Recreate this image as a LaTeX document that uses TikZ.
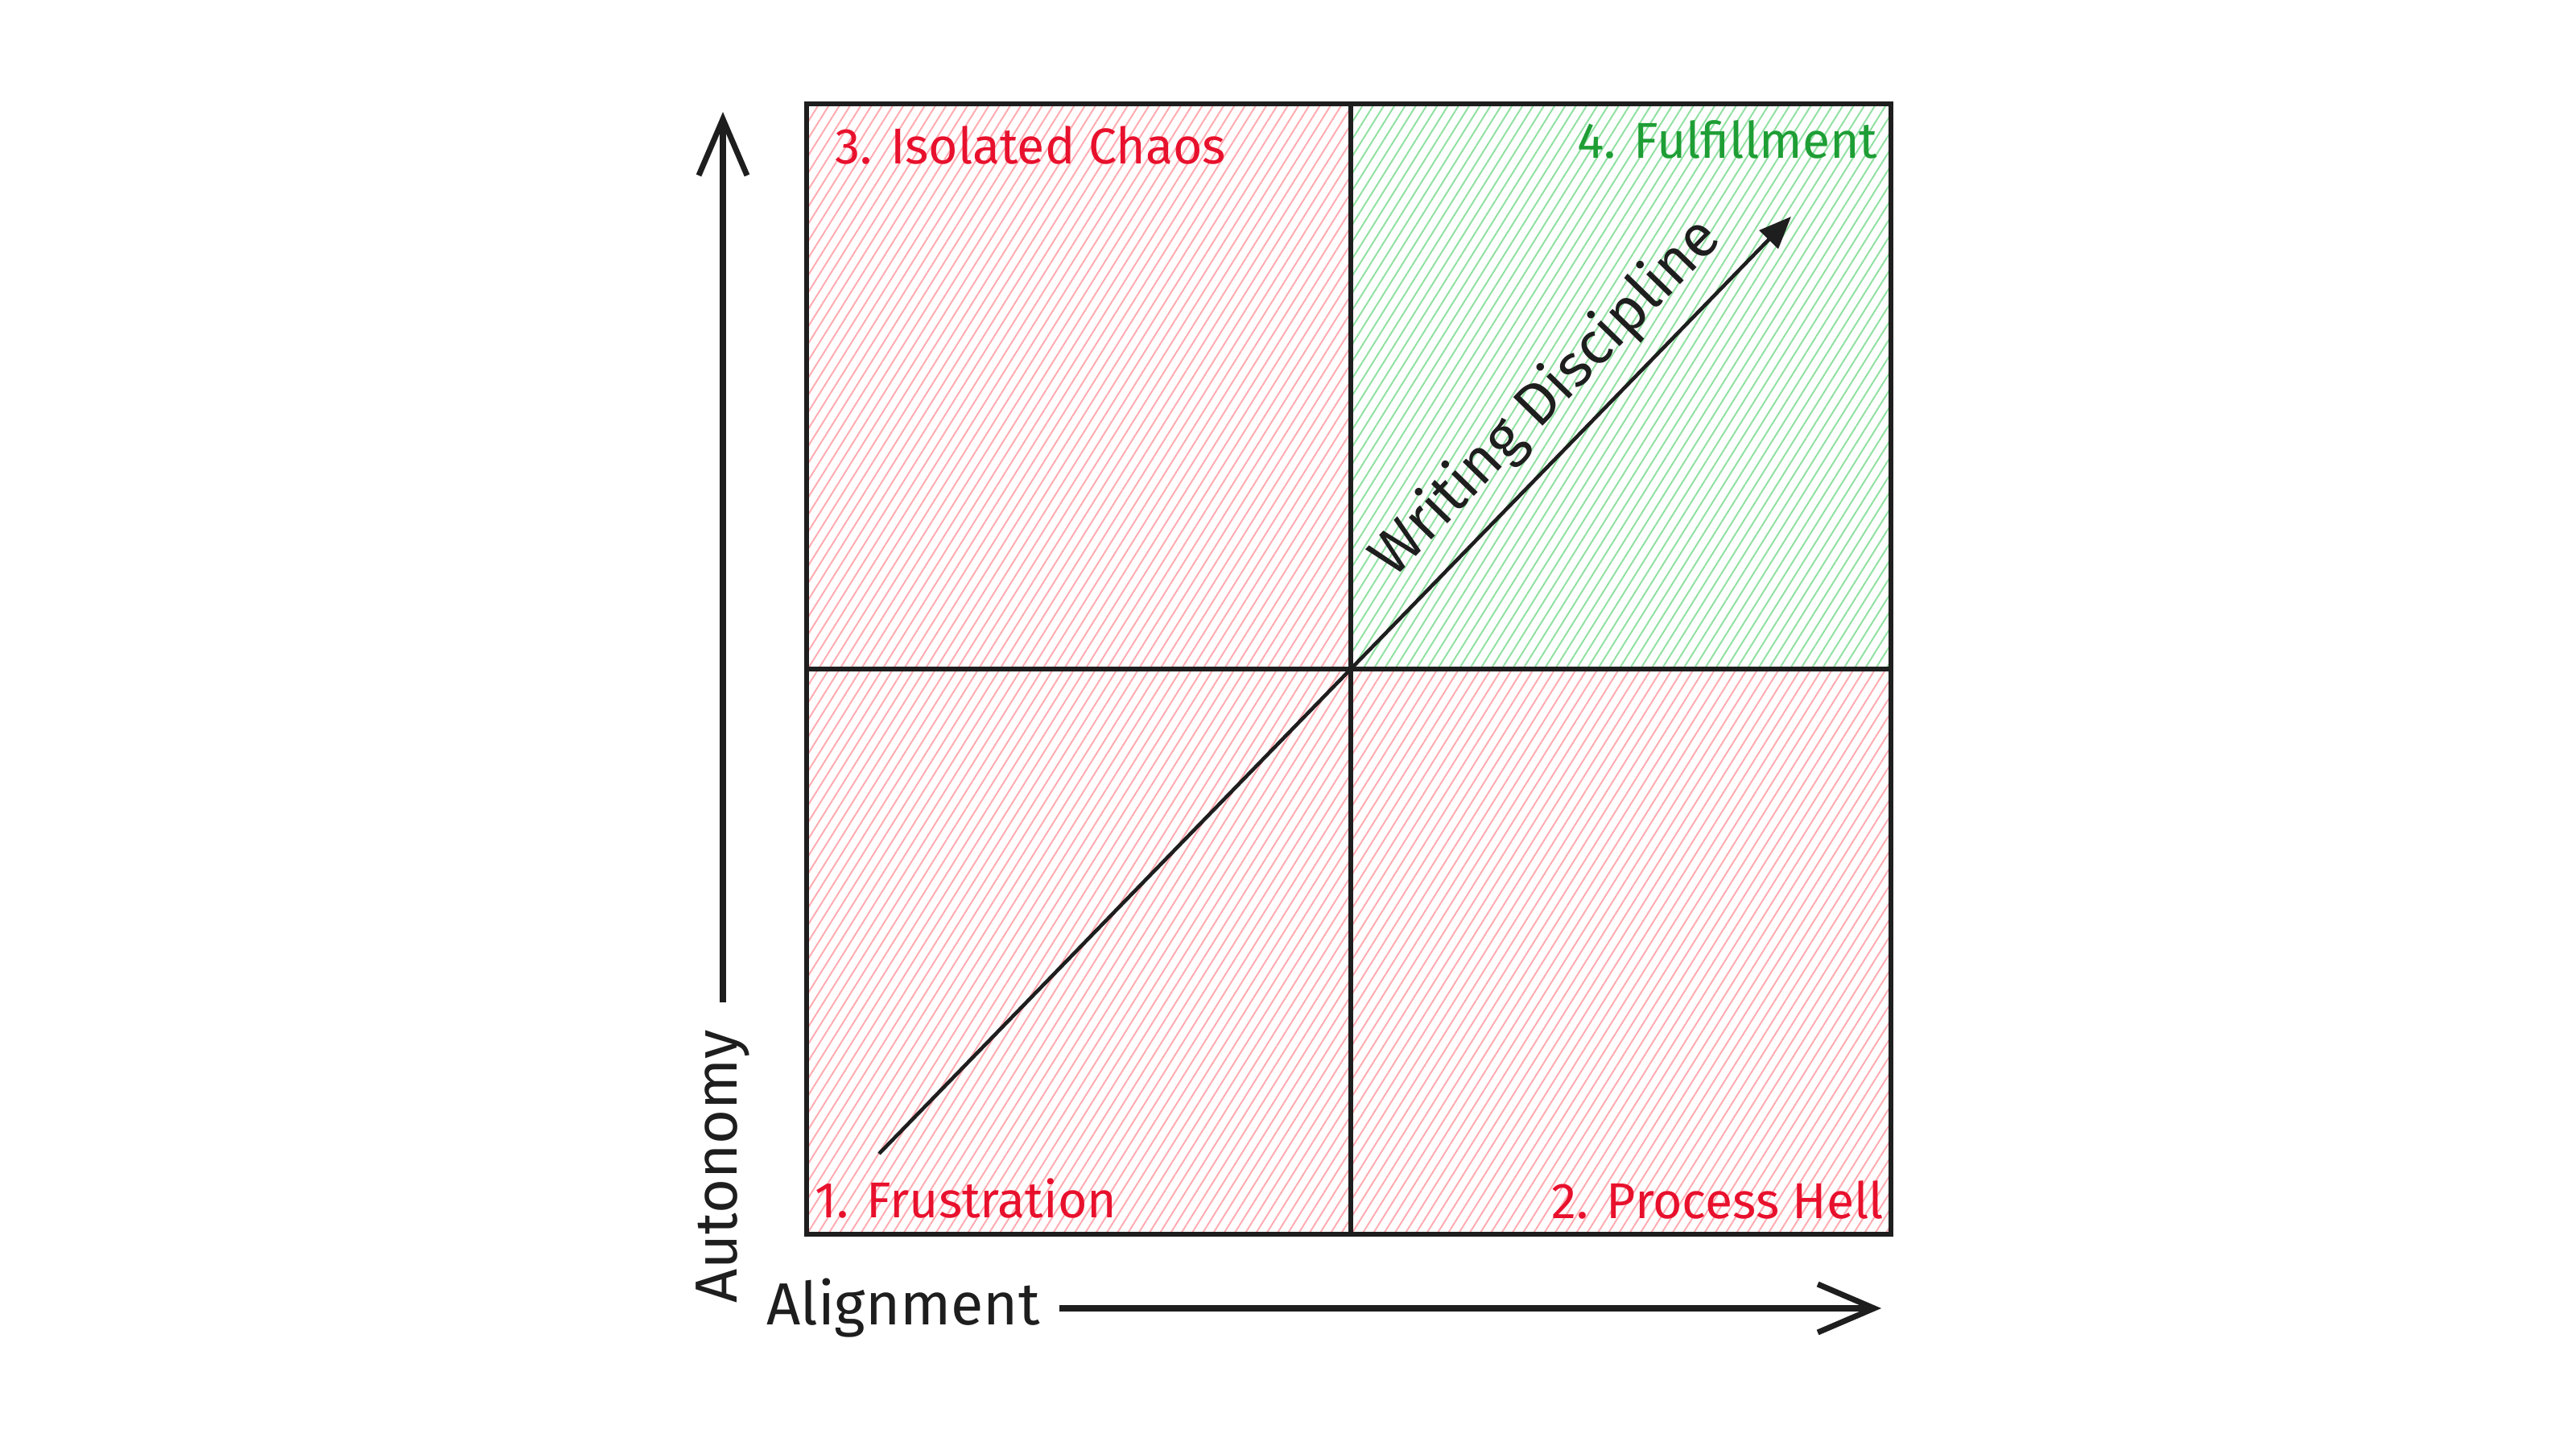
\documentclass[tikz,border=0pt]{standalone}
\usepackage{fontspec}
\setmainfont{Fira Sans}
\usetikzlibrary{arrows.meta,patterns.meta,positioning}
\definecolor{hatchred}{HTML}{FFAAB0}
\definecolor{hatchgreen}{HTML}{8FE0A0}
\definecolor{labelred}{HTML}{E8112D}
\definecolor{labelgreen}{HTML}{1E9E35}
\definecolor{ink}{HTML}{1E1E1E}

\begin{document}
\begin{tikzpicture}[
  quad/.style={draw=ink,line width=1.5pt},
  redhatch/.style={pattern={Lines[angle=58,distance=3.2pt,line width=0.55pt]},pattern color=hatchred},
  greenhatch/.style={pattern={Lines[angle=58,distance=3.2pt,line width=0.55pt]},pattern color=hatchgreen},
  qlabel/.style={font=\fontsize{17.8}{20}\selectfont,inner sep=0pt},
  axis/.style={draw=ink,line width=2pt,-{Straight Barb[length=0.7cm,width=0.6cm]}},
  axlabel/.style={font=\fontsize{21}{26}\selectfont,text=ink}
]
\useasboundingbox (0,0) rectangle (32,18);
% quadrant corners
\coordinate (bl) at (10.02,2.67);
\coordinate (c) at (16.78,9.69);
\coordinate (tr) at (23.49,16.71);
\fill[redhatch] (bl) rectangle (c);
\fill[redhatch] (bl -| c) rectangle (tr |- c);
\fill[redhatch] (bl |- c) rectangle (c |- tr);
\fill[greenhatch] (c) rectangle (tr);
\draw[quad] (bl) rectangle (tr);
\draw[quad] (bl |- c) -- (tr |- c);
\draw[quad] (c |- bl) -- (c |- tr);
% quadrant names
\node[qlabel,text=labelred,anchor=west] (frustration) at (10.12,3.12) {1. Frustration};
\node[qlabel,text=labelred,anchor=east] (processhell) at (23.41,3.10) {2. Process Hell};
\node[qlabel,text=labelred,anchor=west] (chaos) at (10.37,16.20) {3. Isolated Chaos};
\node[qlabel,text=labelgreen,anchor=east] (fulfillment) at (23.33,16.27) {4. Fulfillment};
% axes
\node[axlabel,rotate=90] (autonomy) at (8.98,3.51) {Autonomy};
\node[axlabel] (alignment) at (11.22,1.75) {Alignment};
\coordinate (ybot) at (8.98,5.55);
\coordinate (ytop) at (8.98,16.61);
\coordinate (xleft) at (13.16,1.75);
\coordinate (xright) at (23.37,1.75);
\draw[axis] (ybot) -- (ytop);
\draw[axis] (xleft) -- (xright);
% diagonal
\coordinate (ds) at (10.92,3.67);
\coordinate (de) at (22.25,15.31);
\draw[ink,line width=1.3pt,-{Triangle[length=0.4cm,width=0.32cm]}] (ds) -- (de)
  node[pos=0.77,sloped,above=0.1cm,axlabel] (discipline) {Writing Discipline};
\end{tikzpicture}
\end{document}
